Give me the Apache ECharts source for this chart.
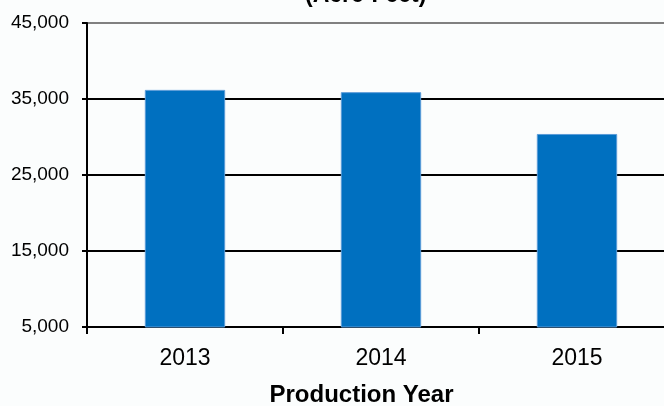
<!DOCTYPE html>
<html>
<head>
<meta charset="utf-8">
<script src="https://cdn.jsdelivr.net/npm/echarts@6/dist/echarts.min.js"></script>
<style>
  html, body { margin: 0; padding: 0; background: #fbfdfd; }
  #chart { width: 664px; height: 406px; }
</style>
</head>
<body>
<div id="chart"></div>
<script>
// production per year (acre-feet)
var years = ['2013', '2014', '2015'];
var production = [36200, 35900, 30400];
var yMin = 5000, yMax = 45000, yStep = 10000;

var FONT = '"Liberation Sans", Arial, sans-serif';

var chart = echarts.init(document.getElementById('chart'));

var option = {
  backgroundColor: '#fbfdfd',
  animation: false,
  grid: {
    left: 87,
    right: -11,
    top: 23,
    bottom: 79,
    outerBoundsMode: 'none'
  },
  graphic: [{
    // title is cut off at the top of the picture
    type: 'text',
    left: 305,
    top: -16,
    style: {
      text: '(Acre-Feet)',
      fill: '#000',
      font: 'bold 23px ' + FONT
    }
  }],
  xAxis: {
    type: 'category',
    data: years,
    name: 'Production Year',
    nameLocation: 'middle',
    nameGap: 56,
    nameTextStyle: {
      color: '#000',
      fontFamily: FONT,
      fontWeight: 'bold',
      fontSize: 24,
      padding: [0, 39, 0, 0]
    },
    axisLine: { lineStyle: { color: '#000', width: 2 } },
    axisTick: {
      show: true,
      interval: 0,
      length: 7,
      lineStyle: { color: '#000', width: 2 }
    },
    axisLabel: {
      color: '#000',
      fontFamily: FONT,
      fontSize: 23,
      margin: 20
    }
  },
  yAxis: {
    type: 'value',
    min: yMin,
    max: yMax,
    interval: yStep,
    axisLine: { show: true, lineStyle: { color: '#000', width: 2 } },
    axisTick: {
      show: true,
      length: 5,
      lineStyle: { color: '#000', width: 2 }
    },
    axisLabel: {
      color: '#000',
      fontFamily: FONT,
      fontSize: 19,
      margin: 18,
      formatter: function (v) {
        return v.toLocaleString('en-US');
      }
    },
    splitLine: {
      lineStyle: {
        color: ['#000', '#000', '#000', '#000', '#808080'],
        width: 2
      }
    }
  },
  series: [{
    type: 'bar',
    data: production,
    barWidth: '41%',
    itemStyle: {
      color: '#0070c0',
      borderColor: '#5a9bd8',
      borderWidth: 1
    }
  }]
};

chart.setOption(option);
</script>
</body>
</html>
